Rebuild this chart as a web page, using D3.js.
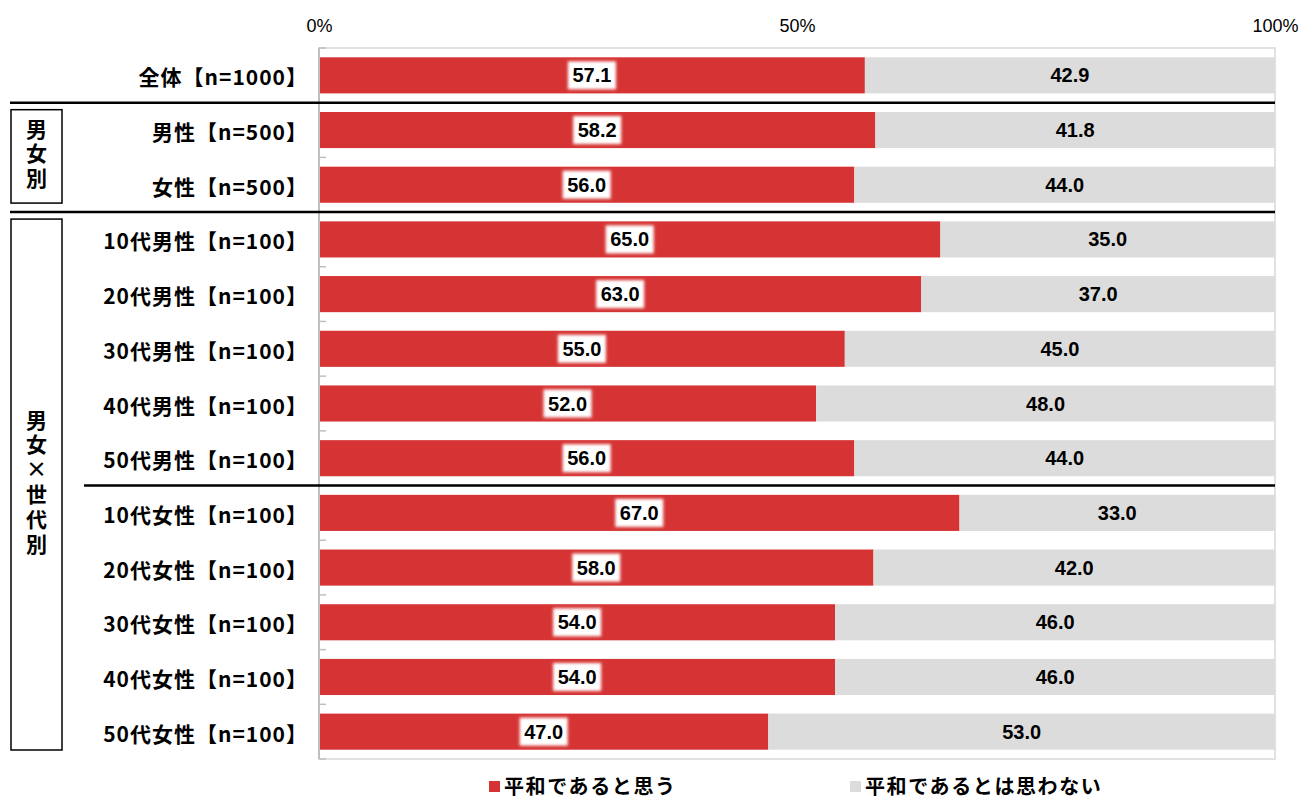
<!DOCTYPE html>
<html>
<head>
<meta charset="utf-8">
<script src="https://cdn.jsdelivr.net/npm/d3@7"></script>
<style>
  body { margin: 0; background: #fff; }
  svg { display: block; }
  text { font-family: "Noto Sans CJK JP", "Noto Sans", sans-serif; }
  .vlabel { writing-mode: vertical-rl; text-orientation: upright; }
</style>
</head>
<body>
<svg id="chart" width="1303" height="798"></svg>
<script>
// Survey categories (rows, top to bottom)
const categories = [
  "全体【n=1000】",
  "男性【n=500】", "女性【n=500】",
  "10代男性【n=100】", "20代男性【n=100】", "30代男性【n=100】", "40代男性【n=100】", "50代男性【n=100】",
  "10代女性【n=100】", "20代女性【n=100】", "30代女性【n=100】", "40代女性【n=100】", "50代女性【n=100】"
];
// Share of respondents (%)
const agreeValues =    [57.1, 58.2, 56.0, 65.0, 63.0, 55.0, 52.0, 56.0, 67.0, 58.0, 54.0, 54.0, 47.0];
const disagreeValues = [42.9, 41.8, 44.0, 35.0, 37.0, 45.0, 48.0, 44.0, 33.0, 42.0, 46.0, 46.0, 53.0];
const seriesNames = ["平和であると思う", "平和であるとは思わない"];
const tickValues = [0, 50, 100];
const tickLabels = ["0%", "50%", "100%"];
// Row indices after which a black divider is drawn, and where each divider starts
const dividerAfter = [0, 2, 7];
const dividerStart = [10, 10, 84];
// Side group boxes (first row index, last row index, label text)
const groupLabels = ["男女別", "男女×世代別"];
const groupFirst = [1, 3];
const groupLast = [2, 12];

const colors = ["#d63434", "#dcdcdc"];

const svg = d3.select("#chart");
const plot = { left: 319, right: 1275, top: 48, bottom: 759 };

const x = d3.scaleLinear().domain([0, 100]).range([plot.left, plot.right]);
const y = d3.scaleBand().domain(categories).range([plot.top, plot.bottom]).paddingInner(0.34).paddingOuter(0.17);
const step = y.step();
const rowTop = i => y(categories[i]) - y.paddingInner() * step / 2;
const rowBottom = i => rowTop(i) + step;

const defs = svg.append("defs");
defs.append("filter").attr("id", "soft").attr("x", "-20%").attr("y", "-30%").attr("width", "140%").attr("height", "160%")
  .append("feGaussianBlur").attr("stdDeviation", 1.6);

// Plot frame
svg.append("rect")
  .attr("x", plot.left).attr("y", plot.top)
  .attr("width", plot.right - plot.left).attr("height", plot.bottom - plot.top)
  .attr("fill", "#fff").attr("stroke", "#d9d9d9").attr("stroke-width", 1.5);

const rows = categories.map((c, i) => ({ c, a: agreeValues[i], d: disagreeValues[i] }));

// Stacked bars
svg.append("g").selectAll("rect.agree").data(rows).join("rect")
  .attr("x", x(0)).attr("y", r => y(r.c))
  .attr("width", r => x(r.a) - x(0)).attr("height", y.bandwidth())
  .attr("fill", colors[0]);
svg.append("g").selectAll("rect.dis").data(rows).join("rect")
  .attr("x", r => x(r.a)).attr("y", r => y(r.c))
  .attr("width", r => x(r.a + r.d) - x(r.a)).attr("height", y.bandwidth())
  .attr("fill", colors[1]);

// Left axis line with ticks on band boundaries
const axisG = svg.append("g");
axisG.append("line").attr("x1", plot.left).attr("x2", plot.left)
  .attr("y1", plot.top).attr("y2", plot.bottom)
  .attr("stroke", "#bfbfbf").attr("stroke-width", 2);
axisG.selectAll("line.tick").data(d3.range(categories.length + 1)).join("line")
  .attr("x1", plot.left).attr("x2", plot.left + 7)
  .attr("y1", i => plot.top + i * step).attr("y2", i => plot.top + i * step)
  .attr("stroke", "#bfbfbf").attr("stroke-width", 1.5);

// Top percentage axis
const topAxis = d3.axisTop(x).tickValues(tickValues).tickFormat((d, i) => tickLabels[i]).tickSize(0).tickPadding(0);
const ta = svg.append("g").attr("transform", `translate(0,${plot.top - 16})`).call(topAxis);
ta.select(".domain").remove();
ta.selectAll("text").attr("font-size", 18).attr("fill", "#000")
  .style("font-family", "'Liberation Sans', Arial, sans-serif");

// Category labels
svg.append("g").selectAll("text").data(rows).join("text")
  .attr("x", 308).attr("y", r => y(r.c) + y.bandwidth() / 2 + 1)
  .attr("text-anchor", "end").attr("dominant-baseline", "central")
  .attr("font-size", 21).attr("font-weight", 700).attr("letter-spacing", 1).attr("fill", "#000")
  .text(r => r.c);

// Value labels on red segments (white soft backdrop)
const agreeLab = svg.append("g").selectAll("g").data(rows).join("g")
  .attr("transform", r => `translate(${(x(0) + x(r.a)) / 2},${y(r.c) + y.bandwidth() / 2})`);
agreeLab.append("rect")
  .attr("x", -24).attr("y", -14).attr("width", 48).attr("height", 28)
  .attr("fill", "#fff").attr("filter", "url(#soft)");
agreeLab.append("text")
  .attr("text-anchor", "middle").attr("dominant-baseline", "central")
  .attr("font-size", 20).attr("font-weight", 700).attr("fill", "#000")
  .style("font-family", "'Liberation Sans', Arial, sans-serif")
  .text(r => r.a.toFixed(1));

// Value labels on gray segments
svg.append("g").selectAll("text").data(rows).join("text")
  .attr("x", r => (x(r.a) + x(r.a + r.d)) / 2).attr("y", r => y(r.c) + y.bandwidth() / 2)
  .attr("text-anchor", "middle").attr("dominant-baseline", "central")
  .attr("font-size", 20).attr("font-weight", 700).attr("fill", "#000")
  .style("font-family", "'Liberation Sans', Arial, sans-serif")
  .text(r => r.d.toFixed(1));

// Group dividers
svg.append("g").selectAll("line").data(dividerAfter).join("line")
  .attr("x1", (d, i) => dividerStart[i]).attr("x2", plot.right)
  .attr("y1", i => rowBottom(i)).attr("y2", i => rowBottom(i))
  .attr("stroke", "#000").attr("stroke-width", 2.5);

// Group boxes with vertical labels
const groups = groupLabels.map((g, i) => ({ g, first: groupFirst[i], last: groupLast[i] }));
const gb = svg.append("g").selectAll("g").data(groups).join("g");
gb.append("rect")
  .attr("x", 11).attr("width", 51)
  .attr("y", d => rowTop(d.first) + 7)
  .attr("height", d => rowBottom(d.last) - rowTop(d.first) - 16)
  .attr("fill", "#fff").attr("stroke", "#000").attr("stroke-width", 1.5);
gb.append("text")
  .attr("class", "vlabel")
  .attr("x", 36.5)
  .attr("y", d => (rowTop(d.first) + rowBottom(d.last)) / 2 - 2)
  .attr("text-anchor", "middle")
  .attr("font-size", 21).attr("font-weight", 700).attr("letter-spacing", 3.8).attr("fill", "#000")
  .text(d => d.g);

// Legend
const legendX = [489, 850];
const lg = svg.append("g").selectAll("g").data(seriesNames).join("g")
  .attr("transform", (d, i) => `translate(${legendX[i]},785)`);
lg.append("rect").attr("x", 0).attr("y", -4).attr("width", 11).attr("height", 11)
  .attr("fill", (d, i) => colors[i]);
lg.append("text").attr("x", 15).attr("y", 0).attr("dominant-baseline", "central")
  .attr("font-size", 20).attr("font-weight", 700).attr("letter-spacing", 1.6).attr("fill", "#000")
  .text(d => d);
</script>
</body>
</html>
